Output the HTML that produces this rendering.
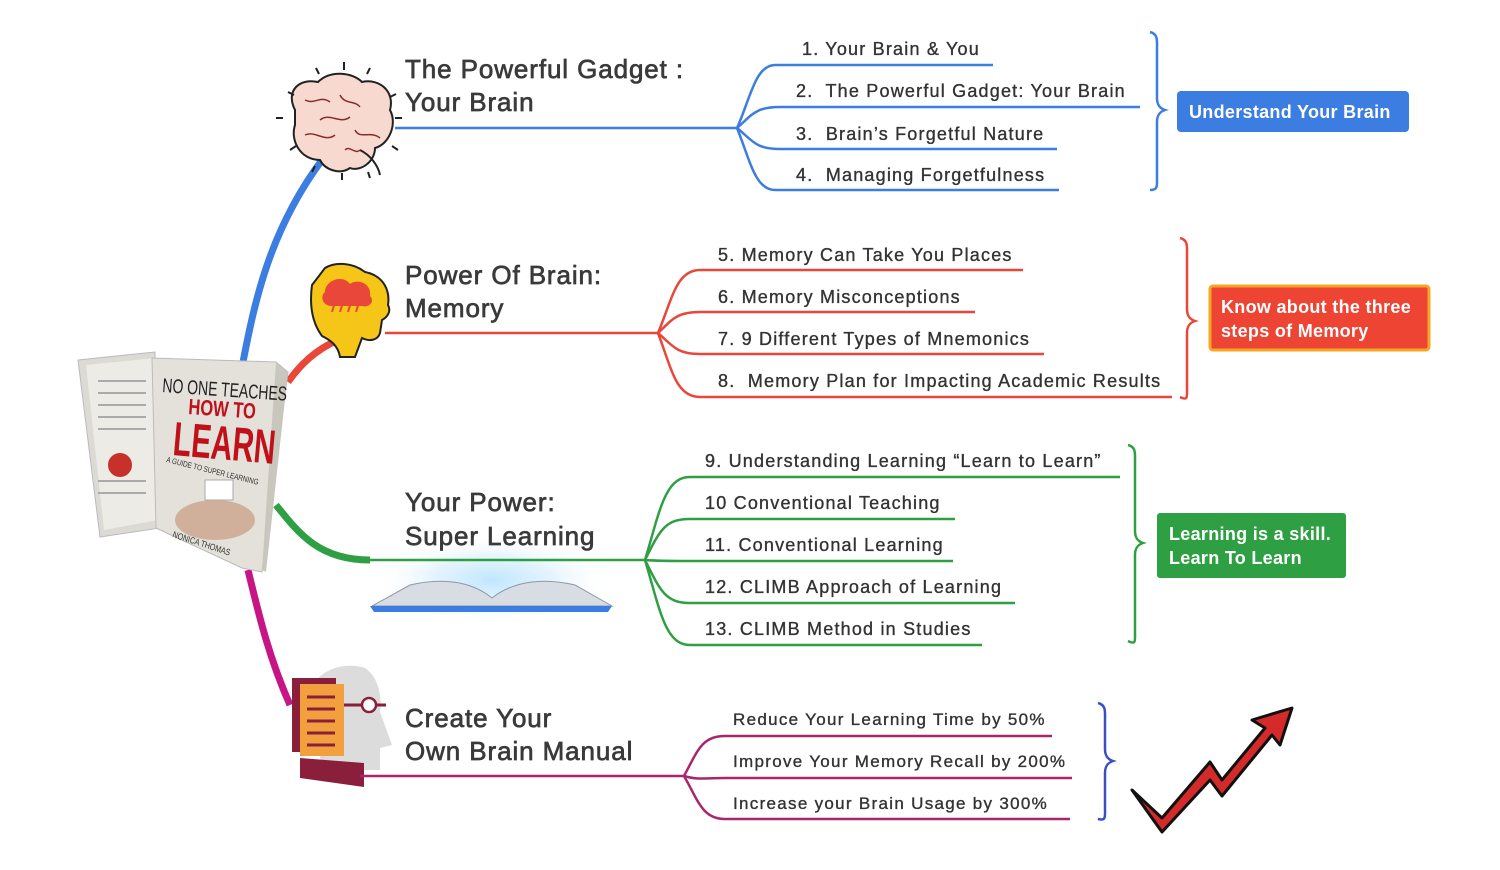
<!DOCTYPE html>
<html><head><meta charset="utf-8"><style>
html,body{margin:0;padding:0;background:#fff;}
svg{display:block}
text{font-family:"Liberation Sans",Arial,sans-serif;white-space:pre;}
.t{font-size:18px;fill:#333;stroke:#333;stroke-width:0.35;letter-spacing:1.2px;}
.s{font-size:17px;letter-spacing:1.3px;}
.h{font-size:26px;fill:#3a3a3a;stroke:#3a3a3a;stroke-width:0.7;letter-spacing:0.9px;}
.b{font-size:18px;fill:#fff;font-weight:bold;letter-spacing:0.3px;}
</style></head><body>
<svg width="1500" height="870" viewBox="0 0 1500 870" xmlns="http://www.w3.org/2000/svg">
<defs>
<radialGradient id="glow" cx="50%" cy="50%" r="50%"><stop offset="0" stop-color="#bfe6ff"/><stop offset="0.5" stop-color="#d9efff" stop-opacity=".7"/><stop offset="1" stop-color="#fff" stop-opacity="0"/></radialGradient>
</defs>
<path d="M243,362 C255,300 270,230 322,160" stroke="#3b7de0" stroke-width="7" fill="none"/>
<path d="M288,382 C300,365 315,350 338,340" stroke="#e8473a" stroke-width="7" fill="none"/>
<path d="M276,505 C300,535 320,560 370,560" stroke="#2ea043" stroke-width="7" fill="none"/>
<path d="M248,570 C260,620 270,660 290,705" stroke="#c71585" stroke-width="7" fill="none"/>

<polygon points="78,360 155,352 160,528 100,537" fill="#dcdad4" stroke="#bbb"/>
<polygon points="86,365 155,358 158,520 104,530" fill="#ecebe6"/>
<g fill="#aaa"><rect x="98" y="380" width="48" height="2"/><rect x="98" y="392" width="48" height="2"/><rect x="98" y="404" width="48" height="2"/><rect x="98" y="416" width="48" height="2"/><rect x="98" y="428" width="48" height="2"/><rect x="98" y="480" width="48" height="2"/><rect x="98" y="492" width="48" height="2"/></g>
<circle cx="120" cy="465" r="12" fill="#c8302a"/>
<polygon points="152,358 276,362 288,372 262,572 242,568 156,528" fill="#e3e1da" stroke="#bbb"/>
<polygon points="276,362 288,372 266,572 262,570" fill="#c9c6bd"/>
<text transform="translate(162,392) rotate(4) scale(0.7,1)" font-size="20" fill="#222" style="letter-spacing:0">NO ONE TEACHES</text>
<text transform="translate(188,414) rotate(4) scale(0.75,1)" font-size="22" fill="#c0101a" font-weight="bold">HOW TO</text>
<text transform="translate(172,455) rotate(5) scale(0.62,1)" font-size="48" fill="#c0101a" font-weight="bold">LEARN</text>
<text transform="translate(166,462) rotate(14) scale(0.8,1)" font-size="8" fill="#333">A GUIDE TO SUPER LEARNING</text>
<ellipse cx="215" cy="520" rx="40" ry="20" fill="#c79a80" opacity=".7"/>
<rect x="205" y="480" width="28" height="20" fill="#fff" stroke="#aaa"/>
<text transform="translate(172,537) rotate(18) scale(0.8,1)" font-size="9" fill="#333">NONICA THOMAS</text>

<g stroke="#222" stroke-width="2" fill="none">
<path d="M295,110 C285,90 300,78 318,82 C330,70 352,72 362,82 C380,78 395,92 390,110 C398,125 388,145 375,148 C375,162 360,172 350,168 C340,175 325,170 320,160 C300,160 290,140 295,125 Z" fill="#f7d9cf"/>
<path d="M305,100 c10,5 15,-5 25,2 M320,120 c10,-8 20,5 30,-3 M340,95 c5,10 15,5 20,12 M305,135 c10,-5 20,8 30,0 M355,130 c5,10 15,0 25,8 M345,150 c5,-5 10,5 15,0" stroke="#8b2a2a" stroke-width="1.5"/>
<path d="M360,150 c10,5 18,15 20,25" />
<path d="M344,62 v8 M316,68 l3,6 M370,68 l-3,6 M288,92 l6,3 M396,94 l-6,3 M276,118 h7 M402,118 h-7 M290,150 l6,-4 M398,150 l-6,-4 M312,172 l3,-6 M342,180 v-7 M370,178 l-2,-6"/>
</g>
<text class="h" x="405" y="78">The Powerful Gadget :</text>
<text class="h" x="405" y="111">Your Brain</text>

<g stroke="#3b7de0" stroke-width="2.5" fill="none">
<path d="M395,128 H737"/>
<path d="M737,128 C750,100 755,65 775,65 H993"/>
<path d="M737,128 C752,115 755,107 780,107 H1140"/>
<path d="M737,128 C752,140 755,149 780,149 H1057"/>
<path d="M737,128 C750,160 755,190 775,190 H1059"/>
<path d="M1150,32 c8,2 7,8 7,16 v50 c0,6 2,10 8,12 c-6,2 -8,6 -8,12 v56 c0,8 1,12 -7,12"/>
</g>
<text class="t" x="802" y="55">1. Your Brain &amp; You</text>
<text class="t" x="796" y="97">2.  The Powerful Gadget: Your Brain</text>
<text class="t" x="796" y="140">3.  Brain’s Forgetful Nature</text>
<text class="t" x="796" y="181">4.  Managing Forgetfulness</text>
<rect x="1177" y="91" width="232" height="41" rx="4" fill="#3b7de0"/>
<text class="b" x="1189" y="118">Understand Your Brain</text>

<path d="M325,268 C335,262 352,262 365,272 C385,276 390,292 388,305 C392,312 386,318 382,320 L380,333 C378,340 370,342 362,338 L355,357 L340,357 C338,345 330,340 322,336 C310,320 310,300 312,285 Z" fill="#f5c518" stroke="#222" stroke-width="2"/>
<path d="M325,292 c0,-12 18,-18 25,-8 c8,-6 22,0 20,12 c5,5 0,12 -8,10 h-30 c-10,0 -12,-10 -7,-14z" fill="#e8473a"/>
<g stroke="#e8473a" stroke-width="2"><path d="M335,302 l-3,10 M343,302 l-3,10 M351,302 l-3,10 M359,302 l-3,10"/></g>
<text class="h" x="405" y="284">Power Of Brain:</text>
<text class="h" x="405" y="317">Memory</text>
<g stroke="#e8473a" stroke-width="2.5" fill="none">
<path d="M385,333 H658"/>
<path d="M658,333 C672,300 676,270 700,270 H1023"/>
<path d="M658,333 C672,320 676,312 700,312 H975"/>
<path d="M658,333 C672,345 676,354 700,354 H1044"/>
<path d="M658,333 C672,370 676,397 700,397 H1172"/>
<path d="M1180,238 c8,2 7,8 7,16 v55 c0,6 2,10 8,12 c-6,2 -8,6 -8,12 v56 c0,8 1,12 -7,8"/>
</g>
<text class="t" x="718" y="261">5. Memory Can Take You Places</text>
<text class="t" x="718" y="303">6. Memory Misconceptions</text>
<text class="t" x="718" y="345">7. 9 Different Types of Mnemonics</text>
<text class="t" x="718" y="387">8.  Memory Plan for Impacting Academic Results</text>
<rect x="1210" y="286" width="219" height="64" rx="3" fill="#ee4433" stroke="#f6a623" stroke-width="3"/>
<text class="b" x="1221" y="313">Know about the three</text>
<text class="b" x="1221" y="337">steps of Memory</text>

<ellipse cx="492" cy="580" rx="120" ry="45" fill="url(#glow)"/>
<path d="M372,606 L410,585 C440,578 470,580 492,598 C515,580 545,578 575,585 L612,606 Z" fill="#d8dde3" stroke="#8a98a8"/>
<path d="M370,606 H612 L608,612 H374 Z" fill="#3b7de0"/>
<text class="h" x="405" y="511">Your Power:</text>
<text class="h" x="405" y="545">Super Learning</text>
<g stroke="#2ea043" stroke-width="2.5" fill="none">
<path d="M370,560 H645"/>
<path d="M645,560 C660,510 665,477 690,477 H1120"/>
<path d="M645,560 C660,530 665,519 690,519 H955"/>
<path d="M645,560 C660,561 665,561 690,561 H953"/>
<path d="M645,560 C660,590 665,603 690,603 H1015"/>
<path d="M645,560 C660,610 665,645 690,645 H982"/>
<path d="M1128,445 c8,2 7,8 7,16 v70 c0,6 2,10 8,12 c-6,2 -8,6 -8,12 v78 c0,8 1,12 -7,8"/>
</g>
<text class="t" x="705" y="467">9. Understanding Learning “Learn to Learn”</text>
<text class="t" x="705" y="509">10 Conventional Teaching</text>
<text class="t" x="705" y="551">11. Conventional Learning</text>
<text class="t" x="705" y="593">12. CLIMB Approach of Learning</text>
<text class="t" x="705" y="635">13. CLIMB Method in Studies</text>
<rect x="1157" y="513" width="189" height="65" rx="3" fill="#2ea043"/>
<text class="b" x="1169" y="540">Learning is a skill.</text>
<text class="b" x="1169" y="564">Learn To Learn</text>

<path d="M310,690 C320,668 345,662 365,668 C380,678 382,700 380,712 L392,745 L380,748 L380,770 L322,770 Z" fill="#dcdcdc"/>
<rect x="292" y="678" width="44" height="74" fill="#8a1f3c"/>
<rect x="300" y="684" width="44" height="72" fill="#f2a03d"/>
<g stroke="#8a1f3c" stroke-width="3"><path d="M307,697 h28 M307,709 h28 M307,721 h28 M307,733 h28 M307,745 h28"/><path d="M344,705 h18 M376,705 h10"/></g>
<circle cx="369" cy="705" r="7" fill="#fff" stroke="#8a1f3c" stroke-width="2.5"/>
<polygon points="300,758 364,763 364,787 300,778" fill="#8a1f3c"/>
<text class="h" x="405" y="727">Create Your</text>
<text class="h" x="405" y="760">Own Brain Manual</text>
<g stroke="#a8266e" stroke-width="2.5" fill="none">
<path d="M360,776 H684"/>
<path d="M684,776 C698,750 702,736 725,736 H1052"/>
<path d="M684,776 C698,780 702,778 725,778 H1072"/>
<path d="M684,776 C698,800 702,819 725,819 H1070"/>
</g>
<path d="M1098,703 c8,2 7,8 7,16 v30 c0,6 2,10 8,12 c-6,2 -8,6 -8,12 v36 c0,8 1,12 -7,10" stroke="#3b4fc0" stroke-width="2.5" fill="none"/>
<text class="t s" x="733" y="725">Reduce Your Learning Time by 50%</text>
<text class="t s" x="733" y="767">Improve Your Memory Recall by 200%</text>
<text class="t s" x="733" y="809">Increase your Brain Usage by 300%</text>
<path d="M1132,790 L1162,818 L1210,762 L1222,780 L1265,728 L1252,720 L1292,708 L1280,745 L1272,735 L1222,796 L1210,780 L1162,832 Z" fill="#d42a2a" stroke="#111" stroke-width="3" stroke-linejoin="round"/>
</svg>
</body></html>
